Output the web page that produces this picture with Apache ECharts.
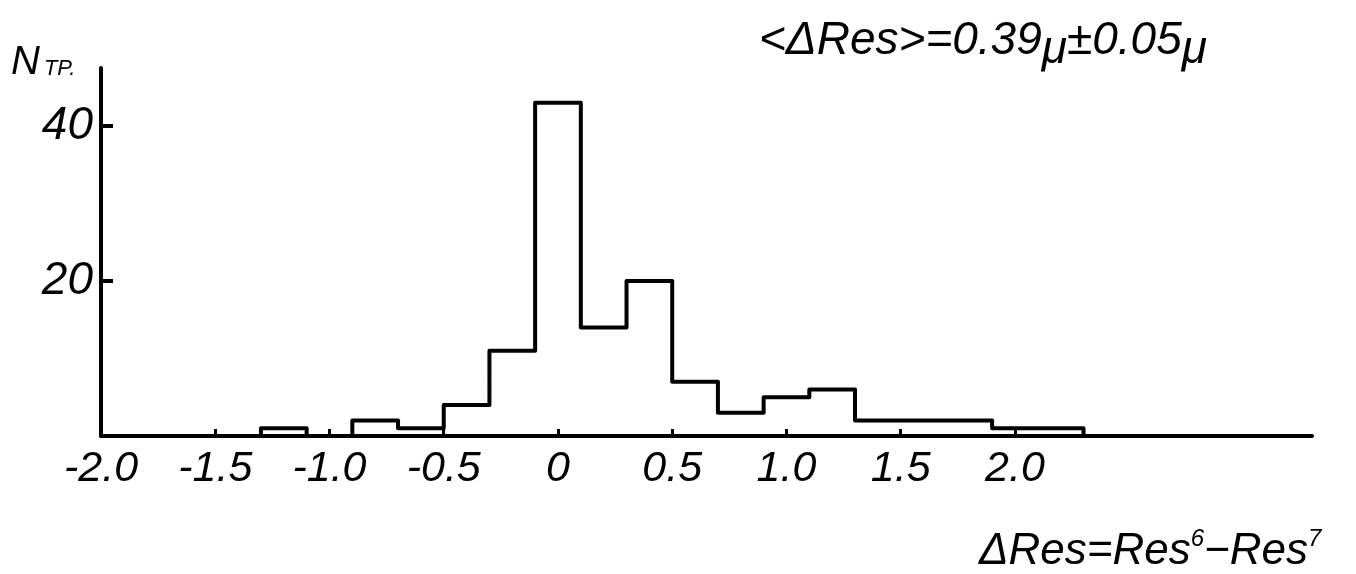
<!DOCTYPE html>
<html>
<head>
<meta charset="utf-8">
<script src="https://cdn.jsdelivr.net/npm/echarts@6/dist/echarts.min.js"></script>
<style>
  html, body { margin: 0; padding: 0; background: #fff; }
  #main { width: 1356px; height: 574px; }
</style>
</head>
<body>
<div id="main"></div>
<script>
  // histogram bins (left edges, width 0.2) and counts
  const binLeft = [-1.3, -1.1, -0.9, -0.7, -0.5, -0.3, -0.1, 0.1, 0.3, 0.5, 0.7, 0.9, 1.1, 1.3, 1.5, 1.7, 1.9, 2.1];
  const binRight = 2.3;
  const counts = [1, 0, 2, 1, 4, 11, 43, 14, 20, 7, 3, 5, 6, 2, 2, 2, 1, 1];

  const xTicks = [-2.0, -1.5, -1.0, -0.5, 0, 0.5, 1.0, 1.5, 2.0];
  const xTickLabels = ['-2.0', '-1.5', '-1.0', '-0.5', '0', '0.5', '1.0', '1.5', '2.0'];
  const yTicks = [20, 40];
  const yTickLabels = ['20', '40'];

  const handFont = "'Liberation Sans', sans-serif";

  // outline of histogram as a step line
  let outline = [[binLeft[0], 0]];
  binLeft.forEach(function (x, i) { outline.push([x, counts[i]]); });
  outline.push([binRight, 0]);

  let chart = echarts.init(document.getElementById('main'));
  chart.setOption({
    animation: false,
    backgroundColor: '#fff',
    title: [
      {
        left: 754, top: 4,
        text: '<ΔRes>=0.39{mu|μ}±0.05{mu|μ}',
        textStyle: {
          fontFamily: handFont, fontStyle: 'italic', fontWeight: 'normal', fontSize: 46, color: '#000',
          rich: { mu: { fontFamily: handFont, fontStyle: 'italic', fontSize: 46, color: '#000', padding: [18, 0, 0, 0] } }
        }
      },
      {
        left: 974, top: 522,
        text: 'ΔRes=Res{sup|6}−Res{sup|7}',
        textStyle: {
          fontFamily: handFont, fontStyle: 'italic', fontWeight: 'normal', fontSize: 44, color: '#000',
          rich: { sup: { fontFamily: handFont, fontStyle: 'italic', fontSize: 24, color: '#000', padding: [0, 0, 26, 0] } }
        }
      },
      {
        left: 6, top: 38,
        text: 'N{sub|TP.}',
        textStyle: {
          fontFamily: handFont, fontStyle: 'italic', fontWeight: 'normal', fontSize: 40, color: '#000',
          rich: { sub: { fontFamily: handFont, fontStyle: 'italic', fontSize: 22, color: '#000', padding: [12, 0, 0, 4] } }
        }
      }
    ],
    grid: { left: 101, right: 44, top: 68, bottom: 138 },
    xAxis: {
      type: 'value',
      min: -2.0,
      max: 3.3,
      axisLine: { show: true, onZero: false, lineStyle: { color: '#000', width: 4 } },
      axisTick: { show: true, inside: true, length: 7, customValues: xTicks, lineStyle: { color: '#000', width: 3 } },
      axisLabel: {
        customValues: xTicks,
        margin: 12,
        fontFamily: handFont, fontStyle: 'italic', fontSize: 43, color: '#000',
        formatter: function (v) {
          let i = xTicks.findIndex(function (t) { return Math.abs(t - v) < 1e-6; });
          return i >= 0 ? xTickLabels[i] : '';
        }
      },
      splitLine: { show: false }
    },
    yAxis: {
      type: 'value',
      min: 0,
      max: 47.5,
      axisLine: { show: true, onZero: false, lineStyle: { color: '#000', width: 4 } },
      axisTick: { show: true, inside: true, length: 12, customValues: yTicks, lineStyle: { color: '#000', width: 4 } },
      axisLabel: {
        customValues: yTicks,
        margin: 8,
        fontFamily: handFont, fontStyle: 'italic', fontSize: 46, color: '#000',
        formatter: function (v) {
          let i = yTicks.indexOf(v);
          return i >= 0 ? yTickLabels[i] : '';
        }
      },
      splitLine: { show: false }
    },
    series: [
      {
        name: 'N',
        type: 'line',
        step: 'end',
        data: outline,
        symbol: 'none',
        lineStyle: { color: '#000', width: 4, join: 'round' },
        z: 3
      }
    ]
  });
</script>
</body>
</html>
